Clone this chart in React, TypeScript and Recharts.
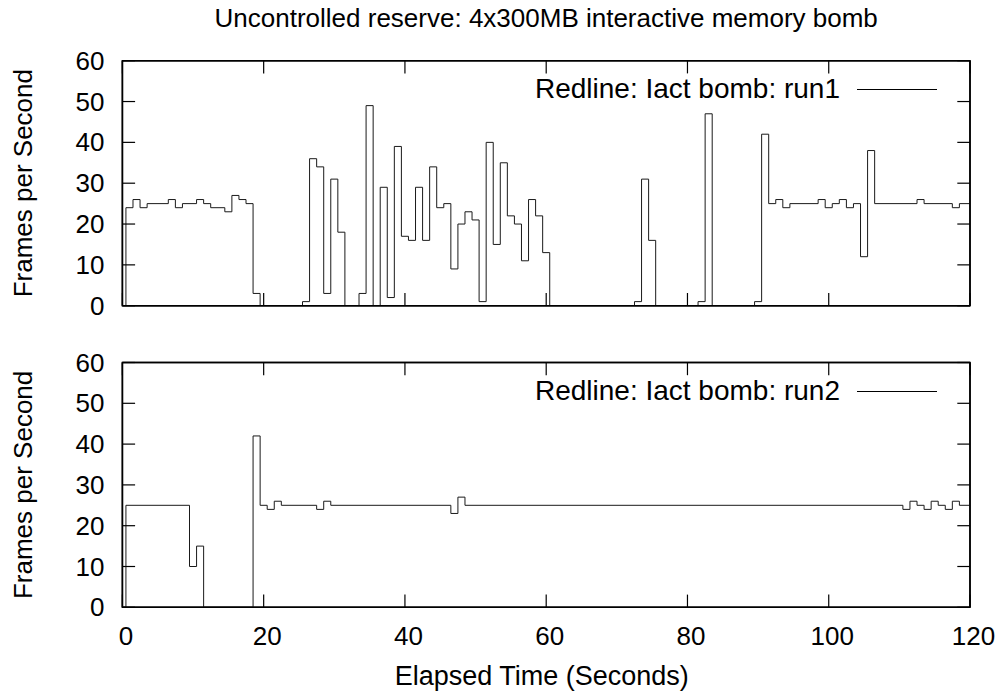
import React from 'react';
import { LineChart, Line, XAxis, YAxis, Legend, Label, ReferenceArea } from 'recharts';

// ---------- text ----------
const titleText = 'Uncontrolled reserve: 4x300MB interactive memory bomb';
const xLabelText = 'Elapsed Time (Seconds)';
const yLabelText = 'Frames per Second';
const run1Name = 'Redline: Iact bomb: run1';
const run2Name = 'Redline: Iact bomb: run2';

// ---------- ticks ----------
const xTicks = [0, 20, 40, 60, 80, 100, 120];
const yTicks = [0, 10, 20, 30, 40, 50, 60];

// ---------- data (step change points: time in s, frames per second) ----------
const run1Times = [0.3, 0.5, 1.5, 2.5, 3.5, 6.5, 7.5, 8.5, 10.5, 11.5, 12.5, 14.5, 15.5, 16.5, 17.5, 18.5, 19.5, 25.5, 26.5, 27.5, 28.5, 29.5, 30.5, 31.5, 33.5, 34.5, 35.5, 36.5, 37.5, 38.5, 39.5, 40.5, 41.5, 42.5, 43.5, 44.5, 45.5, 46.5, 47.5, 48.5, 49.5, 50.5, 51.5, 52.5, 53.5, 54.5, 55.5, 56.5, 57.5, 58.5, 59.5, 60.5, 72.5, 73.5, 74.5, 75.5, 81.5, 82.5, 83.5, 89.5, 90.5, 91.5, 92.5, 93.5, 94.5, 98.5, 99.5, 100.5, 101.5, 102.5, 103.5, 104.5, 105.5, 106.5, 112.5, 113.5, 117.5, 118.5, 120];
const run1Values = [0, 24, 26, 24, 25, 26, 24, 25, 26, 25, 24, 23, 27, 26, 25, 3, 0, 1, 36, 34, 3, 31, 18, 0, 3, 49, 0, 29, 2, 39, 17, 16, 29, 16, 34, 24, 25, 9, 20, 23, 21, 1, 40, 15, 35, 22, 20, 11, 26, 22, 13, 0, 1, 31, 16, 0, 1, 47, 0, 1, 42, 25, 26, 24, 25, 26, 24, 25, 26, 24, 25, 12, 38, 25, 26, 25, 24, 25, 25];

const run2Times = [0.3, 0.5, 9.5, 10.5, 11.5, 18.5, 19.5, 20.5, 21.5, 22.5, 27.5, 28.5, 29.5, 46.5, 47.5, 48.5, 110.5, 111.5, 112.5, 113.5, 114.5, 115.5, 116.5, 117.5, 118.5, 120];
const run2Values = [0, 25, 10, 15, 0, 42, 25, 24, 26, 25, 24, 26, 25, 23, 27, 25, 24, 26, 25, 24, 26, 25, 24, 26, 25, 25];

const run1Data = run1Times.map((t, i) => ({ t, v: run1Values[i] }));
const run2Data = run2Times.map((t, i) => ({ t, v: run2Values[i] }));

// ---------- style ----------
const FONT = "'Liberation Sans', Arial, Helvetica, sans-serif";
const FS = 26;
const LEGEND_FS = 28;
const XLABEL_FS = 27;
const W = 1001;
const TICK_LEN = 12.7;
const AXIS_LINE = { stroke: '#000', strokeWidth: 1.5 };
const TICK_LINE = { stroke: '#000', strokeWidth: 1.2 };

const LeftTickText = (props: any) => {
  const { x, y, payload } = props;
  return (
    <text x={x} y={y + 9} textAnchor="end" fontFamily={FONT} fontSize={FS} fill="#000">
      {payload.value}
    </text>
  );
};

const BottomTickText = (props: any) => {
  const { x, y, payload, showLabel } = props;
  if (!showLabel) return <g />;
  return (
    <text x={x + 3.5} y={y + 38} textAnchor="middle" fontFamily={FONT} fontSize={FS} fill="#000">
      {payload.value}
    </text>
  );
};

const NoText = () => <g />;

const TitleLabel = (props: any) => {
  const vb = props.viewBox || {};
  return (
    <text x={vb.x + vb.width / 2} y={vb.y + vb.height - 34} textAnchor="middle" fontFamily={FONT} fontSize={FS} fill="#000">
      {titleText}
    </text>
  );
};

const YLabel = (props: any) => {
  const vb = props.viewBox || {};
  const cx = vb.x + vb.width - 90.4;
  const cy = vb.y + vb.height / 2;
  return (
    <text transform={`translate(${cx},${cy}) rotate(-90)`} textAnchor="middle" fontFamily={FONT} fontSize={FS} fill="#000">
      {yLabelText}
    </text>
  );
};

const XLabel = (props: any) => {
  const vb = props.viewBox || {};
  return (
    <text x={vb.x + vb.width / 2 - 4.5} y={vb.y + 77.7} textAnchor="middle" fontFamily={FONT} fontSize={XLABEL_FS} fill="#000">
      {xLabelText}
    </text>
  );
};

const makeLegend = (fallback: string) => (props: any) => {
  const name = props?.payload?.[0]?.value ?? fallback;
  return (
    <svg width={W} height={50} style={{ display: 'block', overflow: 'visible' }}>
      <text x={840} y={36.6} textAnchor="end" fontFamily={FONT} fontSize={LEGEND_FS} fill="#000">
        {name}
      </text>
      <line x1={857} x2={937} y1={28.5} y2={28.5} stroke="#000" strokeWidth={1} />
    </svg>
  );
};

type PanelProps = {
  data: { t: number; v: number }[];
  name: string;
  height: number;
  plotTop: number;
  plotBottom: number;
  showXLabels: boolean;
  showTitle: boolean;
};

const Panel = ({ data, name, height, plotTop, plotBottom, showXLabels, showTitle }: PanelProps) => (
  <LineChart
    width={W}
    height={height}
    data={data}
    margin={{ top: plotTop - 1, right: 30, bottom: height - plotBottom - 1, left: 62.4 }}
  >
    <XAxis
      xAxisId="b"
      dataKey="t"
      type="number"
      domain={[0, 120]}
      ticks={xTicks}
      interval={0}
      allowDataOverflow
      height={1}
      tickSize={-TICK_LEN}
      tickMargin={TICK_LEN}
      axisLine={AXIS_LINE}
      tickLine={TICK_LINE}
      tick={<BottomTickText showLabel={showXLabels} />}
    >
      {showXLabels ? <Label content={XLabel} /> : null}
    </XAxis>
    <XAxis
      xAxisId="t"
      dataKey="t"
      orientation="top"
      type="number"
      domain={[0, 120]}
      ticks={xTicks}
      interval={0}
      allowDataOverflow
      height={1}
      tickSize={-TICK_LEN}
      tickMargin={0}
      axisLine={AXIS_LINE}
      tickLine={TICK_LINE}
      tick={<NoText />}
    >
      {showTitle ? <Label content={TitleLabel} /> : null}
    </XAxis>
    <YAxis
      yAxisId="l"
      type="number"
      domain={[0, 60]}
      ticks={yTicks}
      interval={0}
      allowDataOverflow
      width={60}
      tickSize={-TICK_LEN}
      tickMargin={TICK_LEN + 18}
      axisLine={AXIS_LINE}
      tickLine={TICK_LINE}
      tick={<LeftTickText />}
    >
      <Label content={YLabel} />
    </YAxis>
    <YAxis
      yAxisId="r"
      orientation="right"
      type="number"
      domain={[0, 60]}
      ticks={yTicks}
      interval={0}
      allowDataOverflow
      width={1}
      tickSize={-TICK_LEN}
      tickMargin={0}
      axisLine={AXIS_LINE}
      tickLine={TICK_LINE}
      tick={<NoText />}
    />
    <ReferenceArea
      xAxisId="b"
      yAxisId="l"
      x1={0}
      x2={120}
      y1={0}
      y2={60}
      fill="none"
      fillOpacity={0}
      stroke="#000"
      strokeWidth={1.5}
      ifOverflow="visible"
    />
    <Line
      xAxisId="b"
      yAxisId="l"
      dataKey="v"
      name={name}
      type="stepAfter"
      stroke="#1a1a1a"
      strokeWidth={1}
      dot={false}
      activeDot={false}
      isAnimationActive={false}
    />
    <Legend
      content={makeLegend(name)}
      layout="horizontal"
      align="center"
      verticalAlign="middle"
      wrapperStyle={{ position: 'absolute', left: 0, top: plotTop, width: W, height: 50 }}
    />
  </LineChart>
);

export default function App() {
  return (
    <div style={{ position: 'absolute', left: 0, top: 0, width: W, height: 694, background: '#fff' }}>
      <Panel data={run1Data} name={run1Name} height={330} plotTop={60.7} plotBottom={305.7} showXLabels={false} showTitle={true} />
      <Panel data={run2Data} name={run2Name} height={364} plotTop={32.5} plotBottom={277.3} showXLabels={true} showTitle={false} />
    </div>
  );
}
